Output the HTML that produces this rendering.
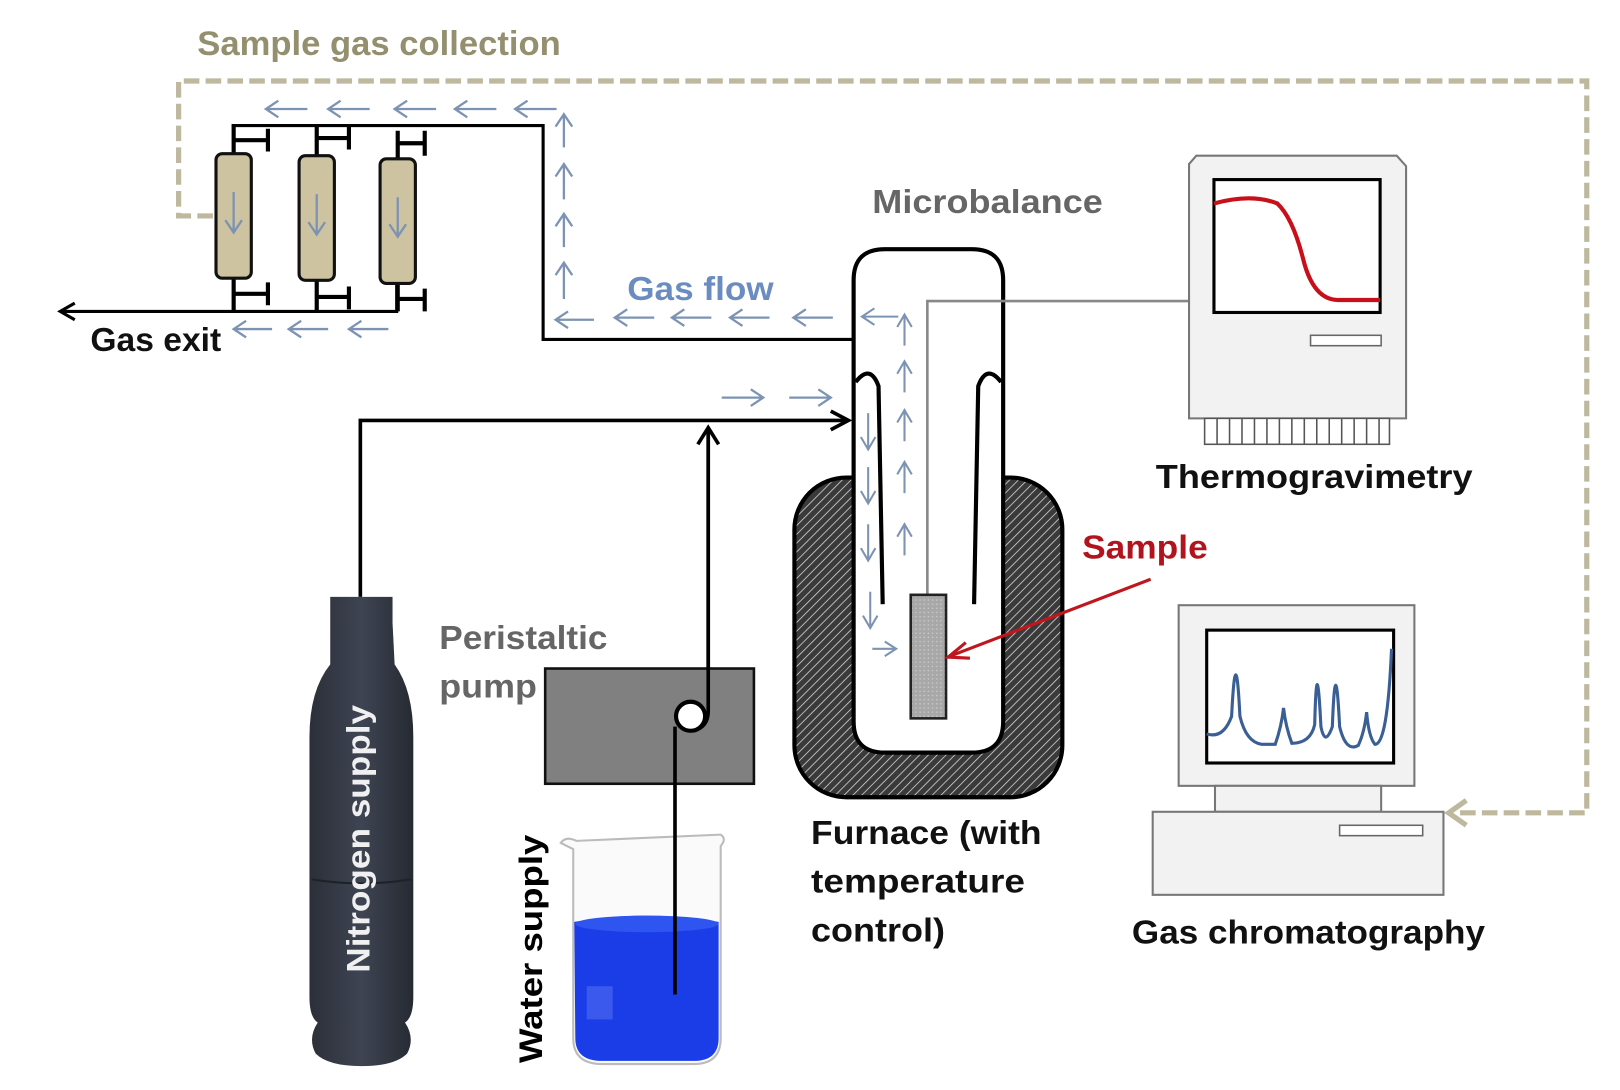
<!DOCTYPE html>
<html><head><meta charset="utf-8"><style>
html,body{margin:0;padding:0;background:#fff;}
svg{display:block;}
text{font-family:"Liberation Sans",sans-serif;font-weight:bold;}
</style></head><body>
<svg width="1620" height="1090" viewBox="0 0 1560 1050" preserveAspectRatio="none" xmlns="http://www.w3.org/2000/svg">
<defs>
<pattern id="hatch" width="6" height="6" patternUnits="userSpaceOnUse" patternTransform="rotate(45)">
<rect width="6" height="6" fill="#3a3a3a"/><line x1="0" y1="0" x2="0" y2="6" stroke="#cfcfcf" stroke-width="1.6"/>
</pattern>
<linearGradient id="bottle" x1="0" x2="1"><stop offset="0" stop-color="#2b2f38"/><stop offset="0.5" stop-color="#3e4452"/><stop offset="1" stop-color="#262a32"/></linearGradient>
<pattern id="dots" width="4" height="4" patternUnits="userSpaceOnUse"><rect width="4" height="4" fill="#a8a8a8"/><circle cx="2" cy="2" r="0.8" fill="#c8c8c8"/></pattern>
</defs>

<!-- dashed sample gas collection -->
<path d="M205 208 H172 V78 H1528 V783 H1400" fill="none" stroke="#bdb89e" stroke-width="5" stroke-dasharray="15 6"/>
<path d="M1412 771 L1395 783 L1412 795" fill="none" stroke="#bdb89e" stroke-width="5"/>
<text x="190" y="53" font-size="33" fill="#948f6e" textLength="350" lengthAdjust="spacingAndGlyphs">Sample gas collection</text>

<!-- top pipe -->
<path d="M223 121 H523 V327 H822" fill="none" stroke="#000" stroke-width="3"/>
<!-- bottom pipe -->
<path d="M60 300 H382 V270" fill="none" stroke="#000" stroke-width="3"/>
<path d="M72 292 L58 300 L72 308" fill="none" stroke="#000" stroke-width="3"/>

<!-- columns with valves -->
<g stroke="#000" fill="none">
<path d="M225 121 V150 M225 135 H258 M258 124 V146" stroke-width="4"/>
<path d="M305 121 V152 M305 133 H336 M336 122 V144" stroke-width="4"/>
<path d="M383 126 V154 M383 138 H409 M409 126 V150" stroke-width="4"/>
<path d="M225 268 V300 M225 283 H258 M258 272 V294" stroke-width="4"/>
<path d="M305 270 V300 M305 286 H336 M336 276 V298" stroke-width="4"/>
<path d="M383 273 V300 M383 288 H409 M409 278 V300" stroke-width="4"/>
</g>
<rect x="208" y="148" width="34" height="120" rx="6" fill="#cdc3a0" stroke="#111" stroke-width="3"/>
<rect x="288" y="150" width="34" height="120" rx="6" fill="#cdc3a0" stroke="#111" stroke-width="3"/>
<rect x="366" y="153" width="34" height="120" rx="6" fill="#cdc3a0" stroke="#111" stroke-width="3"/>

<g stroke="#7d93b3" stroke-width="2.2" fill="none">
<!-- column arrows -->
<path d="M225 185 V222 M217 212 L225 224 L233 212"/>
<path d="M305 187 V224 M297 214 L305 226 L313 214"/>
<path d="M383 190 V226 M375 216 L383 228 L391 216"/>
<!-- top row arrows -->
<path d="M256 105 H296 M268 97 L256 105 L268 113"/>
<path d="M316 105 H356 M328 97 L316 105 L328 113"/>
<path d="M380 105 H420 M392 97 L380 105 L392 113"/>
<path d="M438 105 H478 M450 97 L438 105 L450 113"/>
<path d="M496 105 H536 M508 97 L496 105 L508 113"/>
<!-- up arrows -->
<path d="M543 112 V142 M535 122 L543 110 L551 122"/>
<path d="M543 160 V192 M535 170 L543 158 L551 170"/>
<path d="M543 208 V238 M535 218 L543 206 L551 218"/>
<path d="M543 255 V288 M535 265 L543 253 L551 265"/>
<!-- gas flow arrows -->
<path d="M535 308 H572 M547 300 L535 308 L547 316"/>
<path d="M592 306 H630 M604 298 L592 306 L604 314"/>
<path d="M647 306 H685 M659 298 L647 306 L659 314"/>
<path d="M703 306 H741 M715 298 L703 306 L715 314"/>
<path d="M764 306 H802 M776 298 L764 306 L776 314"/>
<!-- gas exit arrows -->
<path d="M225 317 H262 M237 309 L225 317 L237 325"/>
<path d="M278 317 H316 M290 309 L278 317 L290 325"/>
<path d="M336 317 H374 M348 309 L336 317 L348 325"/>
<!-- inlet arrows -->
<path d="M695 383 H733 M723 375 L735 383 L723 391"/>
<path d="M760 383 H798 M788 375 L800 383 L788 391"/>
</g>

<!-- furnace -->
<rect x="765" y="460" width="258" height="308" rx="50" fill="url(#hatch)" stroke="#000" stroke-width="4"/>
<!-- microbalance tube -->
<path d="M822 270 Q822 240 852 240 H936 Q966 240 966 270 V695 Q966 725 936 725 H852 Q822 725 822 695 Z" fill="#fff" stroke="#000" stroke-width="4"/>
<!-- baffles -->
<path d="M824 368 Q838 350 846 372 L850 582" fill="none" stroke="#000" stroke-width="4"/>
<path d="M964 368 Q950 350 942 372 L938 582" fill="none" stroke="#000" stroke-width="4"/>
<!-- wire and sample -->
<path d="M893 573 V290 H1145" fill="none" stroke="#888" stroke-width="2.5"/>
<rect x="877" y="573" width="34" height="119" fill="url(#dots)" stroke="#222" stroke-width="2.5"/>
<!-- tube arrows -->
<g stroke="#7d93b3" stroke-width="2" fill="none">
<path d="M830 305 H865 M842 297 L830 305 L842 313"/>
<path d="M871 333 V305 M864 315 L871 303 L878 315"/>
<path d="M871 378 V350 M864 360 L871 348 L878 360"/>
<path d="M871 425 V397 M864 407 L871 395 L878 407"/>
<path d="M871 475 V447 M864 457 L871 445 L878 457"/>
<path d="M871 535 V507 M864 517 L871 505 L878 517"/>
<path d="M836 398 V433 M829 421 L836 433 L843 421"/>
<path d="M836 450 V485 M829 473 L836 485 L843 473"/>
<path d="M836 505 V540 M829 528 L836 540 L843 528"/>
<path d="M838 570 V605 M831 593 L838 605 L845 593"/>
<path d="M840 625 H862 M852 618 L863 625 L852 632"/>
</g>
<!-- sample arrow -->
<path d="M1108 558 L915 632" stroke="#c0161e" stroke-width="3" fill="none"/>
<path d="M930 619 L913 633 L934 634" stroke="#c0161e" stroke-width="3" fill="none"/>

<!-- nitrogen line -->
<path d="M347 575 V405 H815" fill="none" stroke="#000" stroke-width="3.5"/>
<path d="M800 396 L817 405 L800 414" fill="none" stroke="#000" stroke-width="3.5"/>
<!-- water line -->
<path d="M682 412 V680" fill="none" stroke="#000" stroke-width="3.5"/>
<path d="M672 428 L682 412 L692 428" fill="none" stroke="#000" stroke-width="3.5"/>

<!-- pump -->
<rect x="525" y="644" width="201" height="111" fill="#808080" stroke="#111" stroke-width="2.5"/>
<circle cx="665" cy="690" r="14" fill="#fff" stroke="#000" stroke-width="4"/>
<path d="M682 412 V685 Q682 700 668 704" fill="none" stroke="#000" stroke-width="3.5"/>

<!-- beaker -->
<path d="M555 810 Q545 805 540 812 L552 818 V1000 Q552 1025 580 1025 H668 Q694 1025 694 1000 V815 Q700 808 694 804 Z" fill="#fafafa" stroke="#bbb" stroke-width="2"/>
<path d="M553 888 Q620 876 692 888 V1000 Q692 1022 668 1022 H580 Q554 1022 554 1000 Z" fill="#1a3de8"/>
<ellipse cx="623" cy="890" rx="69" ry="8" fill="#2e55f0"/>
<rect x="565" y="950" width="25" height="32" fill="#4a66f0" opacity="0.7"/>
<path d="M650 700 V958" stroke="#000" stroke-width="3.5"/>

<!-- nitrogen bottle -->
<path d="M318 575 H378 V600 L380 640 Q398 665 398 710 V960 Q398 980 390 985 Q400 1000 392 1015 Q380 1027 348 1027 Q316 1027 304 1015 Q296 1000 306 985 Q298 980 298 960 V710 Q298 665 318 640 Z" fill="url(#bottle)"/>
<path d="M300 847 Q348 855 396 847" stroke="#1e2128" stroke-width="2" fill="none"/>
<text transform="translate(356,937) rotate(-90)" font-size="31" fill="#f0f0f0" textLength="258" lengthAdjust="spacingAndGlyphs">Nitrogen supply</text>
<text transform="translate(522,1024) rotate(-90)" font-size="31" fill="#000" textLength="220" lengthAdjust="spacingAndGlyphs">Water supply</text>

<!-- TG computer -->
<path d="M1152 150 H1345 L1354 160 V403 H1145 V158 Z" fill="#f2f2f2" stroke="#777" stroke-width="2"/>
<rect x="1169" y="173" width="160" height="128" fill="#fff" stroke="#000" stroke-width="3"/>
<path d="M1169 196 Q1205 186 1230 196 Q1245 210 1255 250 Q1265 290 1290 289 H1329" fill="none" stroke="#c8101a" stroke-width="4"/>
<rect x="1262" y="323" width="68" height="10" fill="#fff" stroke="#666" stroke-width="1.5"/>
<rect x="1160" y="403" width="178" height="25" fill="#fff" stroke="#555" stroke-width="1.5"/>
<path d="M1172 403V428M1184 403V428M1196 403V428M1208 403V428M1220 403V428M1232 403V428M1244 403V428M1256 403V428M1268 403V428M1280 403V428M1292 403V428M1304 403V428M1316 403V428M1328 403V428" stroke="#555" stroke-width="1.5"/>

<!-- GC computer -->
<rect x="1135" y="583" width="227" height="174" fill="#f2f2f2" stroke="#777" stroke-width="2"/>
<rect x="1162" y="607" width="180" height="128" fill="#fff" stroke="#000" stroke-width="3"/>
<path d="M1162 707 Q1178 712 1186 690 Q1190 610 1194 690 Q1200 715 1215 717 H1228 Q1234 700 1236 682 Q1238 700 1244 716 Q1262 716 1266 698 Q1268 620 1272 700 Q1276 720 1283 700 Q1286 620 1290 700 Q1296 725 1308 718 Q1314 705 1316 686 Q1318 710 1324 717 Q1336 718 1340 625" fill="none" stroke="#3a5f94" stroke-width="3"/>
<rect x="1170" y="757" width="160" height="25" fill="#f2f2f2" stroke="#777" stroke-width="2"/>
<rect x="1110" y="782" width="280" height="80" fill="#f2f2f2" stroke="#777" stroke-width="2"/>
<rect x="1290" y="795" width="80" height="10" fill="#fff" stroke="#666" stroke-width="1.5"/>

<!-- labels -->
<text x="840" y="205" font-size="32" fill="#666" textLength="222" lengthAdjust="spacingAndGlyphs">Microbalance</text>
<text x="604" y="289" font-size="32" fill="#6a8cc0" textLength="141" lengthAdjust="spacingAndGlyphs">Gas flow</text>
<text x="87" y="338" font-size="32" fill="#111" textLength="126" lengthAdjust="spacingAndGlyphs">Gas exit</text>
<text x="1113" y="470" font-size="32" fill="#111" textLength="305" lengthAdjust="spacingAndGlyphs">Thermogravimetry</text>
<text x="1042" y="538" font-size="32" fill="#b2141e" textLength="121" lengthAdjust="spacingAndGlyphs">Sample</text>
<text x="423" y="625" font-size="32" fill="#666" textLength="162" lengthAdjust="spacingAndGlyphs">Peristaltic</text>
<text x="423" y="672" font-size="32" fill="#666" textLength="94" lengthAdjust="spacingAndGlyphs">pump</text>
<text x="781" y="813" font-size="32" fill="#111" textLength="222" lengthAdjust="spacingAndGlyphs">Furnace (with</text>
<text x="781" y="860" font-size="32" fill="#111" textLength="206" lengthAdjust="spacingAndGlyphs">temperature</text>
<text x="781" y="907" font-size="32" fill="#111" textLength="129" lengthAdjust="spacingAndGlyphs">control)</text>
<text x="1090" y="909" font-size="32" fill="#111" textLength="340" lengthAdjust="spacingAndGlyphs">Gas chromatography</text>
</svg>
</body></html>
